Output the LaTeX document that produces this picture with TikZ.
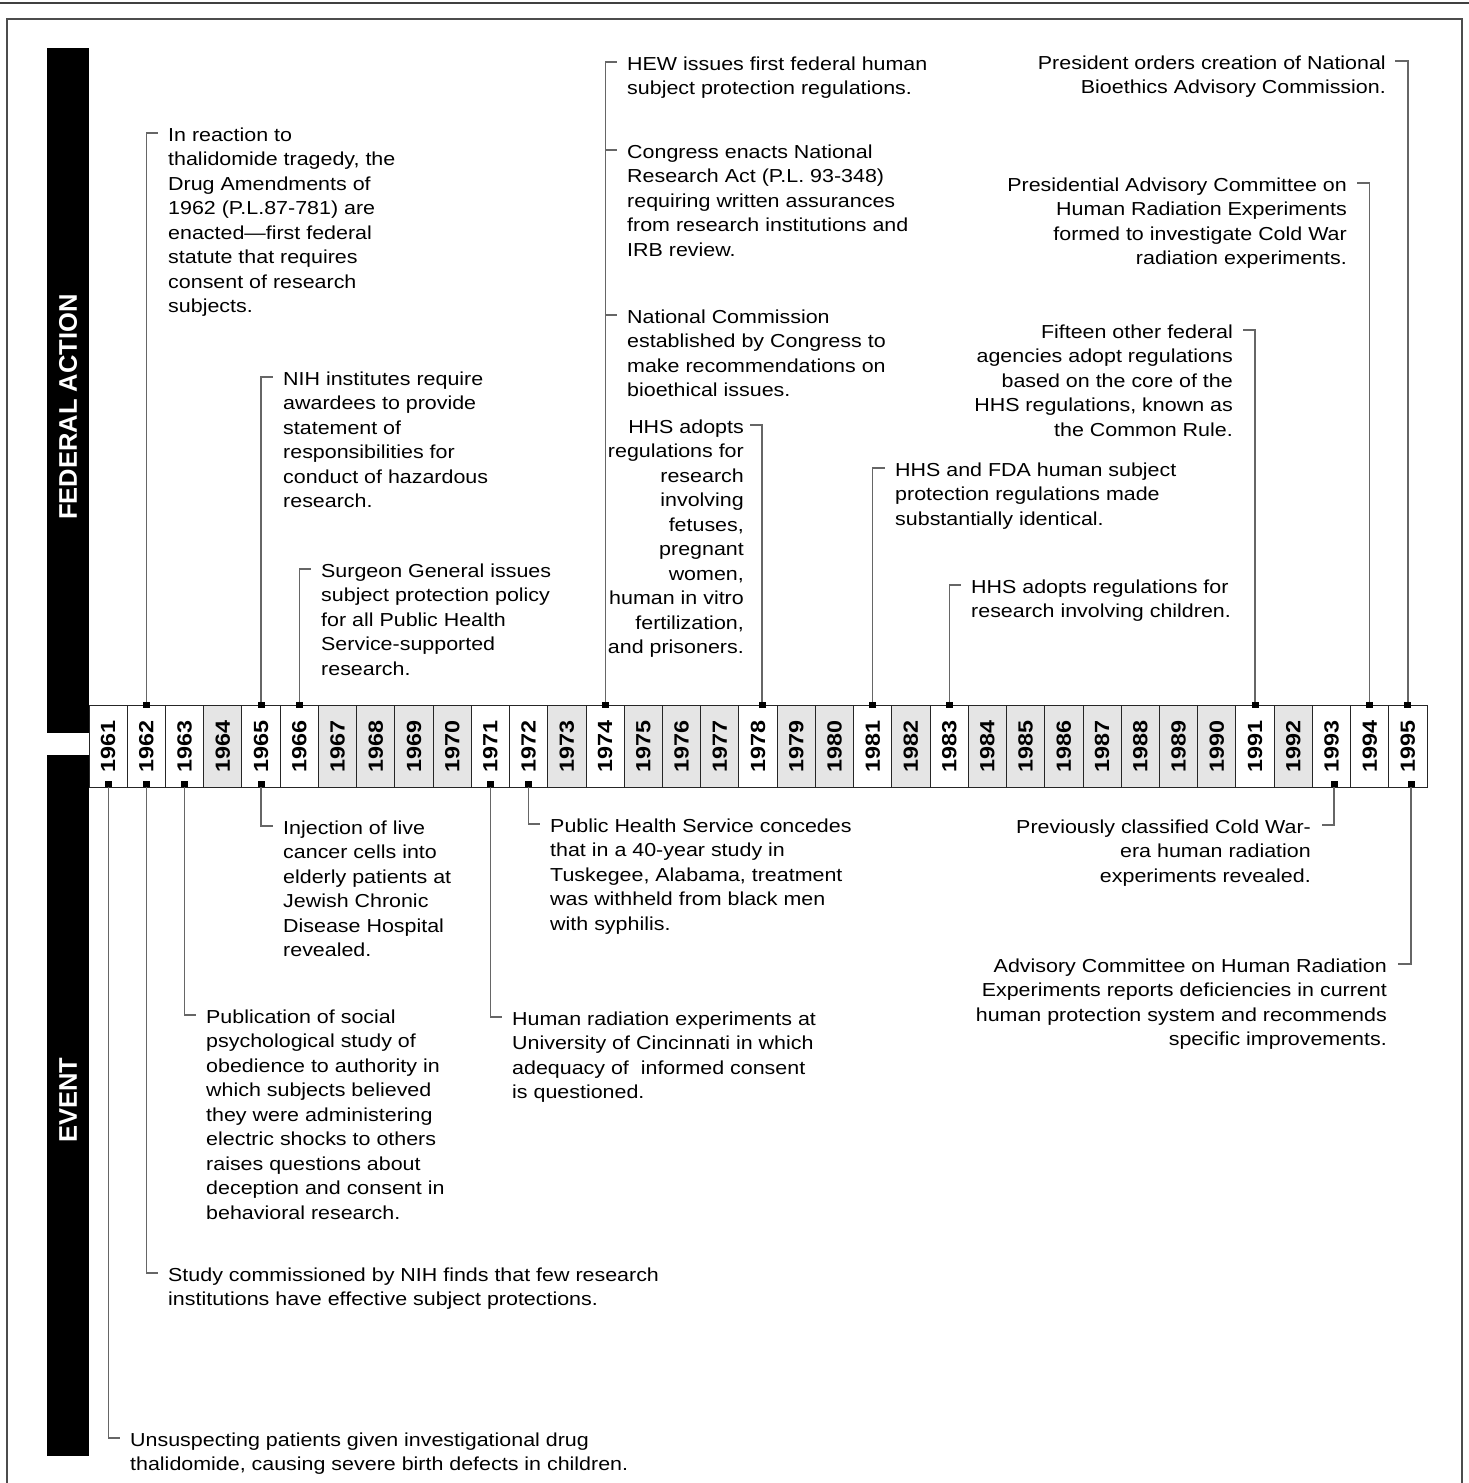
\documentclass[tikz,border=0pt]{standalone}
\usepackage{fontspec}
\setmainfont{Liberation Sans}[FakeStretch=1.14]
\newfontfamily\sidefont{Liberation Sans}
\usepackage{tikz}

\begin{document}
\begin{tikzpicture}[x=1pt, y=-1pt,
    open/.style ={draw=black!85, line width=0.9pt, fill=white, rotate=90, inner sep=0pt,
                  minimum width=82pt, minimum height=38.23pt, font=\bfseries\fontsize{20.5}{21}\selectfont},
    shut/.style ={open, fill=black!10},
    tag/.style ={fill=black, inner sep=0pt, minimum width=7pt, minimum height=6.5pt},
    note/.style ={inner sep=0pt, align=left, anchor=north west, font=\fontsize{18.8}{24.5}\selectfont},
    rnote/.style ={note, align=right, anchor=north east},
    lead/.style ={draw=black!60, line width=1.2pt},
    side/.style ={rotate=90, text=white, font=\sidefont\bfseries\fontsize{25.5}{26}\selectfont}]
   \useasboundingbox (0,0) rectangle (1469,1483);

   % frame and side bars
   \draw[black!75, line width=2.3pt] (0,3) -- (1469,3);
   \draw[black!70, line width=2pt] (7,1490) -- (7,19) -- (1462,19) -- (1462,1490);
   \fill (47,48) rectangle (89,733);
   \fill (47,755) rectangle (89,1456);
   \node[side] (fed) at (68,407) {FEDERAL ACTION};
   \node[side] (evt) at (68,1100) {EVENT};

   % years
   \node[open] (y61) at (108.1,746) {1961};
   \node[open] (y62) at (146.3,746) {1962};
   \node[open] (y63) at (184.6,746) {1963};
   \node[shut] (y64) at (222.8,746) {1964};
   \node[open] (y65) at (261.0,746) {1965};
   \node[open] (y66) at (299.3,746) {1966};
   \node[shut] (y67) at (337.5,746) {1967};
   \node[shut] (y68) at (375.7,746) {1968};
   \node[shut] (y69) at (414.0,746) {1969};
   \node[shut] (y70) at (452.2,746) {1970};
   \node[open] (y71) at (490.4,746) {1971};
   \node[open] (y72) at (528.6,746) {1972};
   \node[shut] (y73) at (566.9,746) {1973};
   \node[open] (y74) at (605.1,746) {1974};
   \node[shut] (y75) at (643.3,746) {1975};
   \node[shut] (y76) at (681.6,746) {1976};
   \node[shut] (y77) at (719.8,746) {1977};
   \node[open] (y78) at (758.0,746) {1978};
   \node[shut] (y79) at (796.3,746) {1979};
   \node[shut] (y80) at (834.5,746) {1980};
   \node[open] (y81) at (872.7,746) {1981};
   \node[shut] (y82) at (910.9,746) {1982};
   \node[open] (y83) at (949.2,746) {1983};
   \node[shut] (y84) at (987.4,746) {1984};
   \node[shut] (y85) at (1025.6,746) {1985};
   \node[shut] (y86) at (1063.9,746) {1986};
   \node[shut] (y87) at (1102.1,746) {1987};
   \node[shut] (y88) at (1140.3,746) {1988};
   \node[shut] (y89) at (1178.6,746) {1989};
   \node[shut] (y90) at (1216.8,746) {1990};
   \node[open] (y91) at (1255.0,746) {1991};
   \node[shut] (y92) at (1293.2,746) {1992};
   \node[open] (y93) at (1331.5,746) {1993};
   \node[open] (y94) at (1369.7,746) {1994};
   \node[open] (y95) at (1407.9,746) {1995};

   % federal action
   \coordinate (ka62) at (158,133);
   \coordinate (ka65) at (273,377);
   \coordinate (ka66) at (311,569);
   \coordinate (ka74) at (617,62);
   \coordinate (kb74) at (617,150);
   \coordinate (kc74) at (617,315);
   \coordinate (ka78) at (750,425);
   \coordinate (ka81) at (885,468);
   \coordinate (ka83) at (961,585);
   \coordinate (ka91) at (1243,330);
   \coordinate (ka94) at (1357,183);
   \coordinate (ka95) at (1395,61);

   \draw[lead] (y62.west |- 0,705) |- (ka62);
   \draw[lead] (y65.west |- 0,705) |- (ka65);
   \draw[lead] (y66.west |- 0,705) |- (ka66);
   \draw[lead] (y74.west |- 0,705) |- (ka74);
   \draw[lead] (y74.west |- 0,705) |- (kb74);
   \draw[lead] (y74.west |- 0,705) |- (kc74);
   \draw[lead] (762,705) |- (ka78);
   \draw[lead] (y81.west |- 0,705) |- (ka81);
   \draw[lead] (y83.west |- 0,705) |- (ka83);
   \draw[lead] (y91.west |- 0,705) |- (ka91);
   \draw[lead] (y94.west |- 0,705) |- (ka94);
   \draw[lead] (y95.west |- 0,705) |- (ka95);

   \node[tag] (a62) at (146.3,705) {};
   \node[tag] (a65) at (261.0,705) {};
   \node[tag] (a66) at (299.3,705) {};
   \node[tag] (a74) at (605.1,705) {};
   \node[tag] (a78) at (762,705) {};
   \node[tag] (a81) at (872.7,705) {};
   \node[tag] (a83) at (949.2,705) {};
   \node[tag] (a91) at (1255.0,705) {};
   \node[tag] (a94) at (1369.7,705) {};
   \node[tag] (a95) at (1407.9,705) {};

   \node[note] (na62) at ([shift={(10,-5.7)}]ka62) {In reaction to\\thalidomide tragedy, the\\Drug Amendments of\\1962 (P.L.87-781) are\\enacted—first federal\\statute that requires\\consent of research\\subjects.};
   \node[note] (na65) at ([shift={(10,-5.7)}]ka65) {NIH institutes require\\awardees to provide\\statement of\\responsibilities for\\conduct of hazardous\\research.};
   \node[note] (na66) at ([shift={(10,-5.7)}]ka66) {Surgeon General issues\\subject protection policy\\for all Public Health\\Service-supported\\research.};
   \node[note] (na74) at ([shift={(10,-5.7)}]ka74) {HEW issues first federal human\\subject protection regulations.};
   \node[note] (nb74) at ([shift={(10,-5.7)}]kb74) {Congress enacts National\\Research Act (P.L. 93-348)\\requiring written assurances\\from research institutions and\\IRB review.};
   \node[note] (nc74) at ([shift={(10,-5.7)}]kc74) {National Commission\\established by Congress to\\make recommendations on\\bioethical issues.};
   \node[rnote] (na78) at ([shift={(-6,-5.7)}]ka78) {HHS adopts\\regulations for\\research\\involving\\fetuses,\\pregnant\\women,\\human in vitro\\fertilization,\\and prisoners.};
   \node[note] (na81) at ([shift={(10,-5.7)}]ka81) {HHS and FDA human subject\\protection regulations made\\substantially identical.};
   \node[note] (na83) at ([shift={(10,-5.7)}]ka83) {HHS adopts regulations for\\research involving children.};
   \node[rnote] (na91) at ([shift={(-10,-5.7)}]ka91) {Fifteen other federal\\agencies adopt regulations\\based on the core of the\\HHS regulations, known as\\the Common Rule.};
   \node[rnote] (na94) at ([shift={(-10,-5.7)}]ka94) {Presidential Advisory Committee on\\Human Radiation Experiments\\formed to investigate Cold War\\radiation experiments.};
   \node[rnote] (na95) at ([shift={(-9,-5.7)}]ka95) {President orders creation of National\\Bioethics Advisory Commission.};

   % events
   \coordinate (ke61) at (120,1438);
   \coordinate (ke62) at (158,1273);
   \coordinate (ke63) at (196,1015);
   \coordinate (ke65) at (273,826);
   \coordinate (ke71) at (502,1017);
   \coordinate (ke72) at (540,824);
   \coordinate (ke93) at (1322,825);
   \coordinate (ke95) at (1398,964);

   \draw[lead] (y61.west |- 0,784) |- (ke61);
   \draw[lead] (y62.west |- 0,784) |- (ke62);
   \draw[lead] (y63.west |- 0,784) |- (ke63);
   \draw[lead] (y65.west |- 0,784) |- (ke65);
   \draw[lead] (y71.west |- 0,784) |- (ke71);
   \draw[lead] (y72.west |- 0,784) |- (ke72);
   \draw[lead] (1334,784) |- (ke93);
   \draw[lead] (1411,784) |- (ke95);

   \node[tag] (e61) at (108.1,784) {};
   \node[tag] (e62) at (146.3,784) {};
   \node[tag] (e63) at (184.6,784) {};
   \node[tag] (e65) at (261.0,784) {};
   \node[tag] (e71) at (490.4,784) {};
   \node[tag] (e72) at (528.6,784) {};
   \node[tag] (e93) at (1334,784) {};
   \node[tag] (e95) at (1411,784) {};

   \node[note] (ne61) at ([shift={(10,-5.7)}]ke61) {Unsuspecting patients given investigational drug\\thalidomide, causing severe birth defects in children.};
   \node[note] (ne62) at ([shift={(10,-5.7)}]ke62) {Study commissioned by NIH finds that few research\\institutions have effective subject protections.};
   \node[note] (ne63) at ([shift={(10,-5.7)}]ke63) {Publication of social\\psychological study of\\obedience to authority in\\which subjects believed\\they were administering\\electric shocks to others\\raises questions about\\deception and consent in\\behavioral research.};
   \node[note] (ne65) at ([shift={(10,-5.7)}]ke65) {Injection of live\\cancer cells into\\elderly patients at\\Jewish Chronic\\Disease Hospital\\revealed.};
   \node[note] (ne71) at ([shift={(10,-5.7)}]ke71) {Human radiation experiments at\\University of Cincinnati in which\\adequacy of \ informed consent\\is questioned.};
   \node[note] (ne72) at ([shift={(10,-5.7)}]ke72) {Public Health Service concedes\\that in a 40-year study in\\Tuskegee, Alabama, treatment\\was withheld from black men\\with syphilis.};
   \node[rnote] (ne93) at ([shift={(-11,-5.7)}]ke93) {Previously classified Cold War-\\era human radiation\\experiments revealed.};
   \node[rnote] (ne95) at ([shift={(-11,-5.7)}]ke95) {Advisory Committee on Human Radiation\\Experiments reports deficiencies in current\\human protection system and recommends\\specific improvements.};

 \end{tikzpicture}
\end{document}
